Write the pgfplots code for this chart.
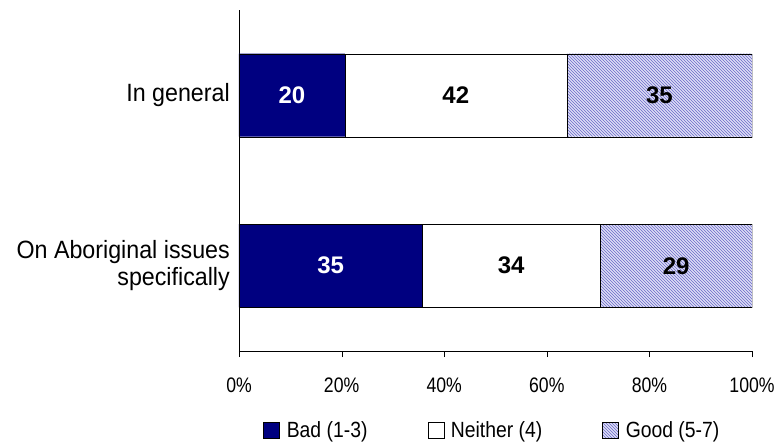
\documentclass[border=0pt]{standalone}
\usepackage{pgfplots}
\pgfplotsset{compat=1.18}
\usepackage{fontspec}
\setmainfont{Liberation Sans}[FakeStretch=0.88]
\newfontfamily\barfont{Liberation Sans}
\newfontfamily\catfont{Liberation Sans}[FakeStretch=0.93]
\newfontfamily\tickfont{Liberation Sans}[FakeStretch=0.84]
\usetikzlibrary{patterns}
\definecolor{badnavy}{RGB}{0,0,128}
\definecolor{goodfill}{RGB}{222,222,245}
\definecolor{goodline}{RGB}{105,105,200}
\pgfplotsset{commonax/.style={
  scale only axis,
  width=513pt, height=341pt,
  xmin=0, xmax=100, ymin=-0.5, ymax=1.5,
}}
\begin{document}
\begin{tikzpicture}
\begin{axis}[
  name=ax,
  commonax,
  xbar stacked,
  bar width=83pt,
  axis lines=left,
  axis line style={-, black},
  xtick={0,20,40,60,80,100},
  xticklabel={\pgfmathprintnumber{\tick}\%},
  /pgf/number format/assume math mode=true,
  tick align=outside,
  xtick pos=bottom,
  major tick length=6pt,
  xtick style={black},
  ytick={0,1},
  yticklabels={{On Aboriginal issues\\specifically},{In general}},
  ytick style={draw=none},
  yticklabel style={align=right, font=\catfont\fontsize{25}{27}\selectfont, inner sep=0pt, xshift=-3pt},
  xticklabel style={font=\tickfont\fontsize{21}{23}\selectfont, inner sep=0pt, yshift=-21pt},
  legend columns=3,
  legend style={at={(0.492,-0.2317)}, anchor=center, draw=none, fill=none,
    font=\fontsize{22}{24}\selectfont,
    nodes={inner sep=0pt},
    /tikz/every odd column/.append style={column sep=7pt},
    /tikz/every even column/.append style={column sep=60pt}},
  legend cell align=left,
  legend image code/.code={\draw[#1,draw=black] (0pt,-8pt) rectangle (16pt,8pt);},
]
\addplot[fill=badnavy, draw=black]
  coordinates {(35.714,0) (20.619,1)};
\addplot[fill=white, draw=black]
  coordinates {(34.694,0) (43.299,1)};
\addplot[fill=goodfill, draw=black, postaction={pattern=north west lines, pattern color=goodline}]
  coordinates {(29.592,0) (36.082,1)};
\legend{Bad (1-3), Neither (4), Good (5-7)}
\end{axis}
\begin{axis}[
  commonax,
  at={(ax.south west)}, anchor=south west,
  hide axis,
  nodes near coords={\pgfplotspointmeta},
  point meta=explicit symbolic,
  every node near coord/.style={anchor=center, inner sep=0pt, font=\barfont\bfseries\fontsize{24}{26}\selectfont},
]
\addplot[only marks, mark=none, every node near coord/.append style={text=white}]
  coordinates {(17.857,0) [35] (10.309,1) [20]};
\addplot[only marks, mark=none, every node near coord/.append style={text=black}]
  coordinates {(53.061,0) [34] (42.268,1) [42] (85.204,0) [29] (81.959,1) [35]};
\end{axis}
\path[use as bounding box] ([xshift=-239pt,yshift=-93pt]ax.south west) rectangle ([xshift=23pt,yshift=10pt]ax.north east);
\end{tikzpicture}
\end{document}
